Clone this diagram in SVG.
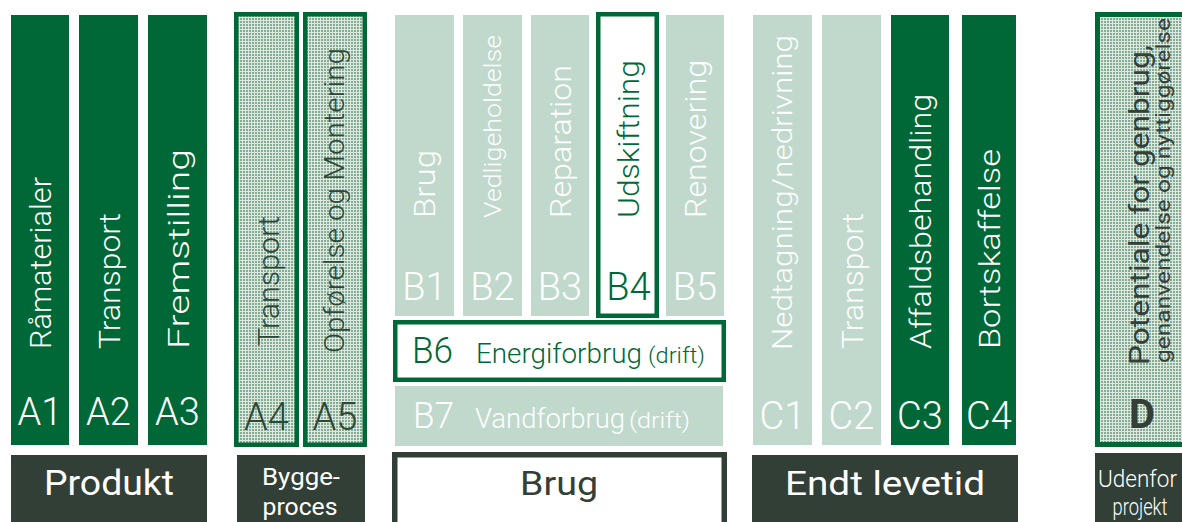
<svg xmlns="http://www.w3.org/2000/svg" width="1182" height="522" viewBox="0 0 1182 522">
<defs>
<pattern id="dots" width="3" height="3" patternUnits="userSpaceOnUse">
<rect width="3" height="3" fill="#dce9e0"/>
<rect width="2" height="2" fill="#86aa92"/>
</pattern>
</defs>
<style>
.dg{fill:#006837}
.lg{fill:#c0d9cc}
.bx{fill:#323f37}
.hatch{fill:url(#dots);stroke:#006837;stroke-width:4.5}
.out{fill:#fff;stroke:#006837;stroke-width:4.5}
text{font-family:Roboto,"Liberation Sans",Arial,sans-serif;font-weight:300}
.w{fill:#fff}
.g{fill:#006837}
.k{fill:#2c4736}
.d{fill:#333f37}
.v{font-size:30px}
.lab{font-size:38px;text-anchor:middle}
.mid{text-anchor:middle}
</style>
<rect width="1182" height="522" fill="#fff"/>

<g id="A1"><rect class="dg" x="11" y="15" width="58" height="430"/>
<text class="w v" transform="translate(51,349) rotate(-90)" textLength="172" lengthAdjust="spacingAndGlyphs">Råmaterialer</text>
<text class="w lab" x="40" y="425">A1</text></g>
<g id="A2"><rect class="dg" x="79" y="15" width="59" height="430"/>
<text class="w v" transform="translate(120,349) rotate(-90)" textLength="136" lengthAdjust="spacingAndGlyphs">Transport</text>
<text class="w lab" x="108.5" y="425">A2</text></g>
<g id="A3"><rect class="dg" x="148" y="15" width="59" height="430"/>
<text class="w v" transform="translate(189,349) rotate(-90)" textLength="200" lengthAdjust="spacingAndGlyphs">Fremstilling</text>
<text class="w lab" x="177.5" y="425">A3</text></g>
<g id="A4"><rect class="hatch" x="236.25" y="14.25" width="60.5" height="430.5"/>
<text class="k v" transform="translate(279,346) rotate(-90)" textLength="130" lengthAdjust="spacingAndGlyphs">Transport</text>
<text class="k lab" x="266.5" y="430">A4</text></g>
<g id="A5"><rect class="hatch" x="305.25" y="14.25" width="59.5" height="430.5"/>
<text class="k" style="font-size:27px" transform="translate(344,353) rotate(-90)" textLength="305" lengthAdjust="spacingAndGlyphs">Opførelse og Montering</text>
<text class="k lab" x="335" y="430">A5</text></g>

<g id="B1"><rect class="lg" x="395" y="15" width="59" height="301"/>
<text class="w v" transform="translate(435,218) rotate(-90)" textLength="68" lengthAdjust="spacingAndGlyphs">Brug</text>
<text class="w lab" x="424.5" y="300">B1</text></g>
<g id="B2"><rect class="lg" x="463" y="15" width="59" height="301"/>
<text class="w" style="font-size:23px" transform="translate(501,218) rotate(-90)" textLength="183" lengthAdjust="spacingAndGlyphs">Vedligeholdelse</text>
<text class="w lab" x="492.5" y="300">B2</text></g>
<g id="B3"><rect class="lg" x="531" y="15" width="58" height="301"/>
<text class="w v" transform="translate(571,218) rotate(-90)" textLength="153" lengthAdjust="spacingAndGlyphs">Reparation</text>
<text class="w lab" x="560" y="300">B3</text></g>
<g id="B4"><rect class="out" x="598.25" y="14.25" width="58.5" height="301.5"/>
<text class="g v" transform="translate(639,218) rotate(-90)" textLength="158" lengthAdjust="spacingAndGlyphs">Udskiftning</text>
<text class="g lab" x="628.5" y="300">B4</text></g>
<g id="B5"><rect class="lg" x="666" y="15" width="58" height="301"/>
<text class="w v" transform="translate(706,218) rotate(-90)" textLength="158" lengthAdjust="spacingAndGlyphs">Renovering</text>
<text class="w lab" x="695" y="300">B5</text></g>
<g id="B6"><rect class="out" x="395.25" y="322.25" width="328.5" height="57.5"/>
<text class="g" style="font-size:36px" x="412" y="363" textLength="41" lengthAdjust="spacingAndGlyphs">B6</text>
<text class="g" style="font-size:28px" x="476" y="363" textLength="166" lengthAdjust="spacingAndGlyphs">Energiforbrug</text>
<text class="g" style="font-size:22px" x="648" y="363" textLength="57" lengthAdjust="spacingAndGlyphs">(drift)</text></g>
<g id="B7"><rect class="lg" x="395" y="386" width="328" height="60"/>
<text class="w" style="font-size:36px" x="413" y="428" textLength="41" lengthAdjust="spacingAndGlyphs">B7</text>
<text class="w" style="font-size:28px" x="475" y="428" textLength="150" lengthAdjust="spacingAndGlyphs">Vandforbrug</text>
<text class="w" style="font-size:22px" x="629" y="428" textLength="61" lengthAdjust="spacingAndGlyphs">(drift)</text></g>

<g id="C1"><rect class="lg" x="753" y="15" width="59" height="430"/>
<text class="w" style="font-size:27px" transform="translate(792,350) rotate(-90)" textLength="315" lengthAdjust="spacingAndGlyphs">Nedtagning/nedrivning</text>
<text class="w lab" x="782.5" y="429">C1</text></g>
<g id="C2"><rect class="lg" x="822" y="15" width="59" height="430"/>
<text class="w v" transform="translate(863,349) rotate(-90)" textLength="136" lengthAdjust="spacingAndGlyphs">Transport</text>
<text class="w lab" x="851.5" y="429">C2</text></g>
<g id="C3"><rect class="dg" x="891" y="15" width="58" height="430"/>
<text class="w v" transform="translate(931,349) rotate(-90)" textLength="255" lengthAdjust="spacingAndGlyphs">Affaldsbehandling</text>
<text class="w lab" x="920" y="429">C3</text></g>
<g id="C4"><rect class="dg" x="962" y="15" width="54" height="430"/>
<text class="w v" transform="translate(1000,349) rotate(-90)" textLength="200" lengthAdjust="spacingAndGlyphs">Bortskaffelse</text>
<text class="w lab" x="989" y="429">C4</text></g>

<g id="D"><rect class="hatch" x="1097.5" y="14.5" width="100" height="430" style="stroke-width:5"/>
<text class="d" style="font-size:28px;font-weight:400" transform="translate(1149,365) rotate(-90)" textLength="320" lengthAdjust="spacingAndGlyphs">Potentiale for genbrug,</text>
<text class="d" style="font-size:20px;font-weight:400" transform="translate(1170,363) rotate(-90)" textLength="345" lengthAdjust="spacingAndGlyphs">genanvendelse og nyttiggørelse</text>
<text class="d mid" style="font-size:40px;font-weight:bold" x="1142" y="428">D</text></g>

<g id="produkt"><rect class="bx" x="11" y="455" width="196" height="70"/>
<text class="w mid" style="font-size:35px;font-weight:400" x="109" y="495" textLength="130" lengthAdjust="spacingAndGlyphs">Produkt</text></g>
<g id="byggeproces"><rect class="bx" x="237" y="455" width="128" height="70"/>
<text class="w mid" style="font-size:24px;font-weight:400" x="301" y="485" textLength="78" lengthAdjust="spacingAndGlyphs">Bygge-</text>
<text class="w mid" style="font-size:24px;font-weight:400" x="300" y="515" textLength="75" lengthAdjust="spacingAndGlyphs">proces</text></g>
<g id="brug"><rect x="394.75" y="454.75" width="329.5" height="80" fill="#fff" stroke="#323f37" stroke-width="5.5"/>
<text class="d mid" style="font-size:33px;font-weight:400" x="559" y="495" textLength="78" lengthAdjust="spacingAndGlyphs">Brug</text></g>
<g id="endt"><rect class="bx" x="752" y="455" width="266" height="70"/>
<text class="w mid" style="font-size:33px;font-weight:400" x="885" y="495" textLength="200" lengthAdjust="spacingAndGlyphs">Endt levetid</text></g>
<g id="udenfor"><rect class="bx" x="1095" y="453" width="100" height="72"/>
<text class="w mid" style="font-size:23px" x="1137.5" y="487" textLength="79" lengthAdjust="spacingAndGlyphs">Udenfor</text>
<text class="w mid" style="font-size:23px" x="1140" y="515" textLength="55" lengthAdjust="spacingAndGlyphs">projekt</text></g>
</svg>
